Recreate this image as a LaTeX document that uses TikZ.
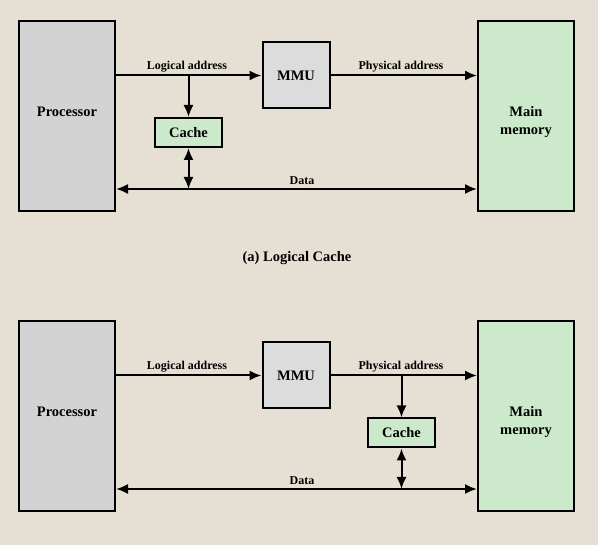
\documentclass[tikz,border=0pt]{standalone}
\usepackage{fontspec}
\setmainfont{Liberation Serif}
\usepackage{xcolor}
\definecolor{paper}{HTML}{E6DFD3}
\definecolor{procgray}{HTML}{D3D3D3}
\definecolor{mmugray}{HTML}{DCDCDC}
\definecolor{memgreen}{HTML}{CCEACB}
\usepackage{tikz}
\usetikzlibrary{arrows.meta}

\tikzset{
  unit/.style={draw=black, line width=2pt, font=\fontsize{14.5}{18}\selectfont\bfseries, align=center, inner sep=0pt},
  unittext/.style={font=\fontsize{14.5}{18}\selectfont\bfseries, anchor=base, inner sep=0pt},
  wire/.style={line width=2pt, -{Latex[length=12pt,width=10pt]}},
  bothwire/.style={line width=2pt, {Latex[length=12pt,width=10pt]}-{Latex[length=12pt,width=10pt]}},
  tag/.style={font=\fontsize{12}{14}\selectfont\bfseries, anchor=base, inner sep=0pt}
}

\begin{document}
\begin{tikzpicture}[x=1pt, y=-1pt]
    \fill[paper] (0,0) rectangle (598,545);
    \useasboundingbox (0,0) rectangle (598,545);

    %  (a) cache before the MMU
    \node [unit, fill=procgray, minimum width=96pt, minimum height=190pt] (procA) at (67,116.5) {};
    \node [unittext] at (67,117) {Processor};
    \node [unit, fill=mmugray, minimum width=67pt, minimum height=66pt] (mmuA) at (296,75.5) {MMU};
    \node [unit, fill=memgreen, minimum width=96pt, minimum height=190pt] (memA) at (526,116.5) {};
    \node [unittext] at (526,117) {Main};
    \node [unittext] at (526,135) {memory};
    \node [unit, fill=memgreen, minimum width=67pt, minimum height=29pt] (cacheA) at (188.5,132.5) {Cache};

    \draw [wire] (mmuA.west -| procA.east) -- (mmuA.west);
    \node [tag] at (187,70) {Logical address};
    \draw [wire] (mmuA.east) -- (mmuA.east -| memA.west);
    \node [tag] at (401,70) {Physical address};
    \draw [wire] (cacheA.north |- mmuA.west) -- (cacheA.north);
    \draw [bothwire] (procA.east |- 0,189) -- (memA.west |- 0,189);
    \node [tag] at (302,185) {Data};
    \draw [bothwire] (cacheA.south) -- (cacheA.south |- 0,189);

    \node [unittext] at (297,262) {(a) Logical Cache};

    %  (b) cache after the MMU
    \node [unit, fill=procgray, minimum width=96pt, minimum height=190pt] (procB) at (67,416.5) {};
    \node [unittext] at (67,417) {Processor};
    \node [unit, fill=mmugray, minimum width=67pt, minimum height=66pt] (mmuB) at (296,375.5) {MMU};
    \node [unit, fill=memgreen, minimum width=96pt, minimum height=190pt] (memB) at (526,416.5) {};
    \node [unittext] at (526,417) {Main};
    \node [unittext] at (526,435) {memory};
    \node [unit, fill=memgreen, minimum width=67pt, minimum height=29pt] (cacheB) at (401.5,433) {Cache};

    \draw [wire] (mmuB.west -| procB.east) -- (mmuB.west);
    \node [tag] at (187,370) {Logical address};
    \draw [wire] (mmuB.east) -- (mmuB.east -| memB.west);
    \node [tag] at (401,370) {Physical address};
    \draw [wire] (cacheB.north |- mmuB.east) -- (cacheB.north);
    \draw [bothwire] (procB.east |- 0,489) -- (memB.west |- 0,489);
    \node [tag] at (302,485) {Data};
    \draw [bothwire] (cacheB.south) -- (cacheB.south |- 0,489);
\end{tikzpicture}
\end{document}
